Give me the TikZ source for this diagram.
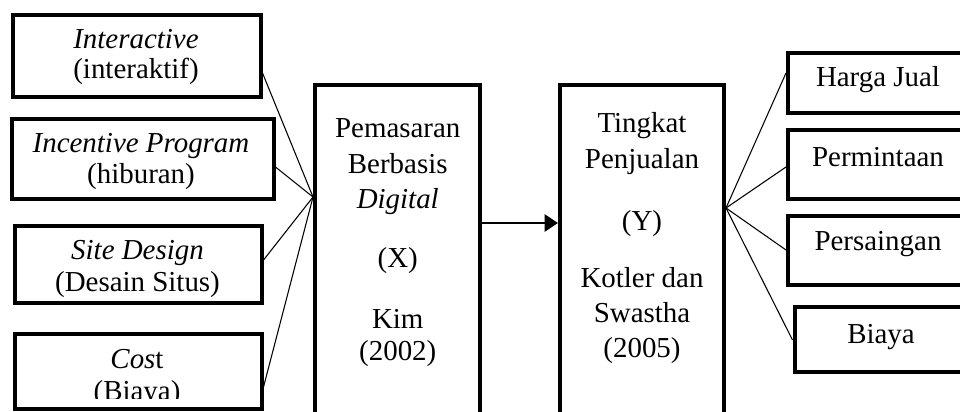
\documentclass[tikz,border=0pt]{standalone}
\usepackage{fontspec}
\setmainfont{Liberation Serif}
\usetikzlibrary{arrows.meta}
\tikzset{
  px/.style={x=0.75pt,y=-0.75pt},
  boxnode/.style={draw=black,line width=3pt,rectangle,inner sep=0pt,fill=white},
  txt/.style={inner sep=0pt,anchor=base,font=\fontsize{21.7}{24}\selectfont},
  conn/.style={draw=black,line width=0.8pt},
  arr/.style={draw=black,line width=1.2pt,-{Triangle[length=10pt,width=13pt]}}
}
\begin{document}
\begin{tikzpicture}[px]
\useasboundingbox (0,0) rectangle (960,411);
\clip (0,0) rectangle (960,411);
\fill[white] (0,0) rectangle (960,411);
% left boxes
\node[boxnode,minimum width=186pt,minimum height=61.5pt] (b1) at (136.5,56) {};
\node[boxnode,minimum width=196.5pt,minimum height=60pt] (b2) at (142.5,159) {};
\node[boxnode,minimum width=184.9pt,minimum height=57.75pt] (b3) at (138.25,264.5) {};
\node[boxnode,minimum width=184.9pt,minimum height=55.9pt] (b4) at (138.25,371.25) {};
% main boxes
\node[boxnode,minimum width=124.1pt,minimum height=273.75pt] (bx) at (397.75,267.5) {};
\node[boxnode,minimum width=123pt,minimum height=273.75pt] (by) at (642,267.5) {};
% right boxes
\node[boxnode,minimum width=159pt,minimum height=45pt] (r1) at (894,82.5) {};
\node[boxnode,minimum width=159pt,minimum height=51.75pt] (r2) at (894,164.5) {};
\node[boxnode,minimum width=159pt,minimum height=51.75pt] (r3) at (894,250) {};
\node[boxnode,minimum width=154.1pt,minimum height=48.75pt] (r4) at (897.25,339.5) {};
% texts
\node[txt] (t1a) at (136,48) {\textit{Interactive}};
\node[txt] (t1b) at (136,78) {(interaktif)};
\node[txt] (t2a) at (141,152) {\textit{Incentive Program}};
\node[txt] (t2b) at (141,183) {(hiburan)};
\node[txt] (t3a) at (137.5,259) {\textit{Site Design}};
\node[txt] (t3b) at (137.5,291) {(Desain Situs)};
\node[txt] (t4a) at (137,368) {\textit{Cos}t};
\begin{scope}
\clip (0,0) rectangle (960,398);
\node[txt] (t4b) at (137,400) {(Biaya)};
\end{scope}
\node[txt] (x1) at (397.75,137) {Pemasaran};
\node[txt] (x2) at (397.75,173) {Berbasis};
\node[txt] (x3) at (397.75,208) {\textit{Digital}};
\node[txt] (x4) at (397.75,267) {(X)};
\node[txt] (x5) at (397.75,328) {Kim};
\node[txt] (x6) at (397.75,360) {(2002)};
\node[txt] (y1) at (642,132) {Tingkat};
\node[txt] (y2) at (642,168) {Penjualan};
\node[txt] (y3) at (642,230) {(Y)};
\node[txt] (y4) at (642,287) {Kotler dan};
\node[txt] (y5) at (642,322) {Swastha};
\node[txt] (y6) at (642,357) {(2005)};
\node[txt] (rt1) at (878,86) {Harga Jual};
\node[txt] (rt2) at (878,166) {Permintaan};
\node[txt] (rt3) at (878,250) {Persaingan};
\node[txt] (rt4) at (881,343) {Biaya};
% connectors
\coordinate (cx) at (bx.west |- 0,197);
\coordinate (cy) at (by.east |- 0,208);
\draw[conn] (b1.east |- 0,73) -- (cx);
\draw[conn] (b2.east |- 0,167) -- (cx);
\draw[conn] (b3.east |- 0,260) -- (cx);
\draw[conn] (b4.east |- 0,387) -- (cx);
\draw[conn] (cy) -- (r1.west |- 0,73);
\draw[conn] (cy) -- (r2.west |- 0,167);
\draw[conn] (cy) -- (r3.west |- 0,250);
\draw[conn] (cy) -- (r4.west |- 0,340);
\draw[arr] (bx.east |- 0,223) -- (by.west |- 0,223);
\end{tikzpicture}
\end{document}
